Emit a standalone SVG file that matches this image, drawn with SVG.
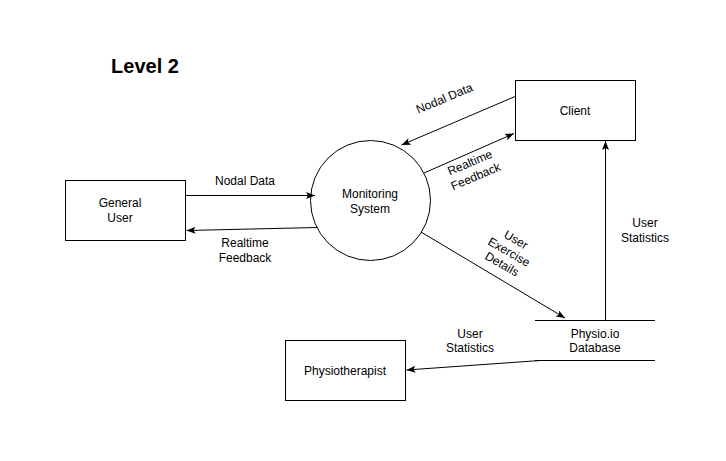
<svg xmlns="http://www.w3.org/2000/svg" width="726" height="461" viewBox="0 0 726 461">
<style>
.box{fill:#fff;stroke:#000;stroke-width:1}
.t{font-family:"Liberation Sans",Arial,sans-serif;font-size:12px;fill:#000;text-anchor:middle}
.e{fill:none;stroke:#000;stroke-width:1}
</style>
<defs>
<marker id="a" markerWidth="10" markerHeight="8" refX="9" refY="4" orient="auto" markerUnits="userSpaceOnUse">
<path d="M0,0.5 L9,4 L0,7.5 L2,4 z" fill="#000"/>
</marker>
</defs>
<rect width="726" height="461" fill="#fff"/>
<text x="145" y="73" style="font-family:'Liberation Sans',Arial,sans-serif;font-size:20px;font-weight:bold;text-anchor:middle">Level 2</text>
<g id="general-user"><rect class="box" x="65.5" y="180.5" width="120" height="60"/><text class="t" x="120" y="207">General</text><text class="t" x="120" y="222">User</text></g>
<g id="monitoring-system"><circle class="box" cx="370.5" cy="200.5" r="60"/><text class="t" x="370" y="198">Monitoring</text><text class="t" x="370" y="213">System</text></g>
<g id="client"><rect class="box" x="515.5" y="80.5" width="120" height="60"/><text class="t" x="575" y="115">Client</text></g>
<g id="physiotherapist"><rect class="box" x="285.5" y="340.5" width="120" height="60"/><text class="t" x="345" y="375">Physiotherapist</text></g>
<g id="database"><line class="e" x1="535" y1="320.5" x2="655" y2="320.5"/><line class="e" x1="535" y1="360.5" x2="655" y2="360.5"/><text class="t" x="595" y="338">Physio.io</text><text class="t" x="595" y="352">Database</text></g>
<g id="connectors">
<line class="e" x1="185.5" y1="195.5" x2="315" y2="195.5" marker-end="url(#a)"/>
<text class="t" x="245" y="185">Nodal Data</text>
<line class="e" x1="317" y1="227.5" x2="186.5" y2="230.5" marker-end="url(#a)"/>
<text class="t" x="245" y="247">Realtime</text><text class="t" x="245" y="262">Feedback</text>
<line class="e" x1="515" y1="96.5" x2="401.5" y2="145" marker-end="url(#a)"/>
<text class="t" transform="translate(446,102) rotate(-23)" x="0" y="0">Nodal Data</text>
<line class="e" x1="424" y1="173" x2="514" y2="133.5" marker-end="url(#a)"/>
<g transform="translate(473,170) rotate(-23)"><text class="t" x="0" y="-4">Realtime</text><text class="t" x="0" y="11">Feedback</text></g>
<line class="e" x1="421" y1="232" x2="565" y2="318" marker-end="url(#a)"/>
<g transform="translate(509,252) rotate(30)"><text class="t" x="0" y="-10">User</text><text class="t" x="0" y="4">Exercise</text><text class="t" x="0" y="18">Details</text></g>
<line class="e" x1="605.5" y1="320" x2="605.5" y2="141" marker-end="url(#a)"/>
<text class="t" x="645" y="227">User</text><text class="t" x="645" y="242">Statistics</text>
<line class="e" x1="540" y1="360.5" x2="406.5" y2="370" marker-end="url(#a)"/>
<text class="t" x="470" y="338">User</text><text class="t" x="470" y="352">Statistics</text>
</g>
</svg>
